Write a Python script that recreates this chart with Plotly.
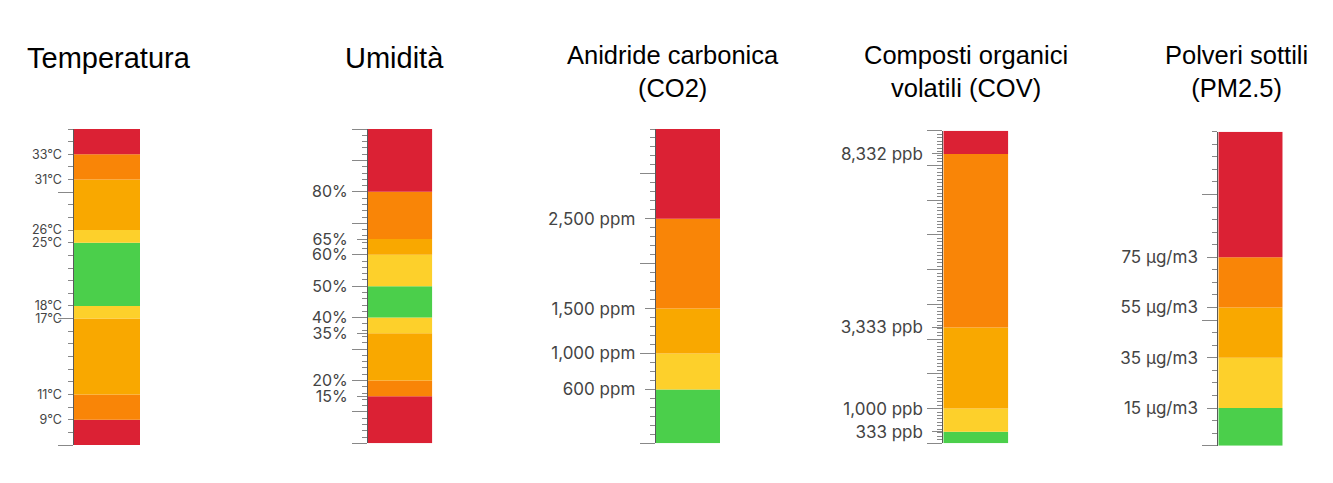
import plotly.graph_objects as go

# colours of the bands
RED = "#DB2134"
ORANGE = "#F98507"
AMBER = "#F9A800"
YELLOW = "#FDD02B"
GREEN = "#4BCF4B"

# temperature: the scale is not linear, so band edges are in scale steps (one small tick each)
temp_edges = [0, 2, 4, 10, 11, 16, 17, 21, 23, 25]
temp_colors = [RED, ORANGE, AMBER, YELLOW, GREEN, YELLOW, AMBER, ORANGE, RED]
temp_tick_pos = [2, 4, 10, 11, 16, 17, 21, 23]
temp_tick_text = ["9°C", "11°C", "17°C", "18°C", "25°C", "26°C", "31°C", "33°C"]

# humidity in %
hum_edges = [0, 15, 20, 35, 40, 50, 60, 65, 80, 100]
hum_colors = [RED, ORANGE, AMBER, YELLOW, GREEN, YELLOW, AMBER, ORANGE, RED]
hum_tick_pos = [15, 20, 35, 40, 50, 60, 65, 80]
hum_tick_text = ["15%", "20%", "35%", "40%", "50%", "60%", "65%", "80%"]

# CO2 in ppm
co2_edges = [0, 600, 1000, 1500, 2500, 3500]
co2_colors = [GREEN, YELLOW, AMBER, ORANGE, RED]
co2_tick_pos = [600, 1000, 1500, 2500]
co2_tick_text = ["600 ppm", "1,000 ppm", "1,500 ppm", "2,500 ppm"]

# VOC in ppb
voc_edges = [0, 333, 1000, 3333, 8332, 9000]
voc_colors = [GREEN, YELLOW, AMBER, ORANGE, RED]
voc_tick_pos = [333, 1000, 3333, 8332]
voc_tick_text = ["333 ppb", "1,000 ppb", "3,333 ppb", "8,332 ppb"]

# PM2.5 in ug/m3
pm_edges = [0, 15, 35, 55, 75, 125]
pm_colors = [GREEN, YELLOW, AMBER, ORANGE, RED]
pm_tick_pos = [15, 35, 55, 75]
pm_tick_text = ["15 μg/m3", "35 μg/m3", "55 μg/m3", "75 μg/m3"]

titles = ["Temperatura", "Umidità", "Anidride carbonica<br>(CO2)",
          "Composti organici<br>volatili (COV)", "Polveri sottili<br>(PM2.5)"]

# the page body adds an 8px margin, so the figure is a bit smaller than the window
OFF = 8
W, H = 1333 - OFF, 483 - OFF


def px_x(v):
    return (v - OFF) / W


def px_y(v):
    return 1 - (v - OFF) / H


panels = [
    # edges, colors, tick pos, tick text, long tick step, minor step, x px, y px, label size, label tick len
    (temp_edges, temp_colors, temp_tick_pos, temp_tick_text, 10, 1, (73.5, 140), (129, 445), 12.5, 5),
    (hum_edges, hum_colors, hum_tick_pos, hum_tick_text, 10, 2, (368, 432.3), (129, 443.3), 16, 10),
    (co2_edges, co2_colors, co2_tick_pos, co2_tick_text, 1000, 100, (655.7, 720), (129, 443.3), 17, 10),
    (voc_edges, voc_colors, voc_tick_pos, voc_tick_text, 1000, 100, (943.3, 1008.3), (130.7, 443.3), 17, 10),
    (pm_edges, pm_colors, pm_tick_pos, pm_tick_text, 50, 5, (1218.3, 1282.7), (131.7, 445.7), 17, 10),
]

title_x = [109, 394, 673, 966, 1236]

fig = go.Figure()
layout = {}
for i, (edges, colors, tpos, ttext, long_step, minor_step, xpx, ypx, fs, tl) in enumerate(panels):
    n = i + 1
    ov = n + 5
    heights = [edges[k + 1] - edges[k] for k in range(len(edges) - 1)]
    fig.add_trace(go.Bar(
        x=[0] * len(heights), y=heights, base=edges[:-1], width=1,
        marker=dict(color=colors, line=dict(width=0)),
        xaxis=f"x{n}", yaxis=f"y{n}", showlegend=False, hoverinfo="skip",
    ))
    # empty trace so the label axis gets drawn
    fig.add_trace(go.Scatter(x=[None], y=[None], xaxis=f"x{n}", yaxis=f"y{ov}",
                             showlegend=False, hoverinfo="skip"))
    rng = [edges[0], edges[-1]]
    layout[f"xaxis{n}"] = dict(domain=[px_x(xpx[0]), px_x(xpx[1])], anchor=f"y{n}",
                               range=[-0.5, 0.5], visible=False, fixedrange=True)
    layout[f"yaxis{n}"] = dict(
        domain=[px_y(ypx[1]), px_y(ypx[0])], anchor=f"x{n}", range=rng,
        showgrid=False, zeroline=False,
        showline=True, linecolor="#5a5a5a", linewidth=1,
        tickmode="linear", tick0=0, dtick=long_step, ticks="outside",
        ticklen=15, tickcolor="#888", showticklabels=False,
        minor=dict(ticks="outside", tickmode="linear", tick0=0, dtick=minor_step,
                   ticklen=5, tickcolor="#888"),
    )
    layout[f"yaxis{ov}"] = dict(
        overlaying=f"y{n}", anchor=f"x{n}", side="left", range=rng,
        showgrid=False, zeroline=False, showline=False,
        tickmode="array", tickvals=tpos, ticktext=ttext,
        ticks="outside", ticklen=tl, tickcolor="#888",
        ticklabelstandoff=6 if i else 3,
        tickfont=dict(family="Inter", size=fs, color="#444"),
    )

annotations = []
for i, t in enumerate(titles):
    two = "<br>" in t
    annotations.append(dict(
        text=t, x=px_x(title_x[i]), y=px_y(71 if two else 58),
        xref="paper", yref="paper", xanchor="center", yanchor="middle",
        showarrow=False, align="center",
        font=dict(family="Liberation Sans, Arial", size=25.5 if two else 29, color="#000"),
    ))

fig.update_layout(
    width=W, height=H, margin=dict(l=0, r=0, t=0, b=0),
    paper_bgcolor="white", plot_bgcolor="white",
    barmode="overlay", annotations=annotations, **layout,
)

fig.write_html("out.html")
